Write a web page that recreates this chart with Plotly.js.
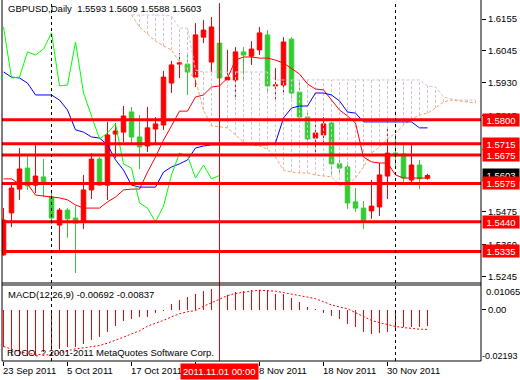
<!DOCTYPE html>
<html><head><meta charset="utf-8">
<script src="https://cdn.plot.ly/plotly-3.0.1.min.js"></script>
<style>html,body{margin:0;padding:0;background:#fff;}#chart{width:520px;height:380px;}</style>
</head><body><div id="chart"></div>
<script>
// ---------- data ----------
const dates = ["2011-09-23","2011-09-26","2011-09-27","2011-09-28","2011-09-29","2011-09-30","2011-10-03","2011-10-04","2011-10-05","2011-10-06","2011-10-07","2011-10-10","2011-10-11","2011-10-12","2011-10-13","2011-10-14","2011-10-17","2011-10-18","2011-10-19","2011-10-20","2011-10-21","2011-10-24","2011-10-25","2011-10-26","2011-10-27","2011-10-28","2011-10-31","2011-11-01","2011-11-02","2011-11-03","2011-11-04","2011-11-07","2011-11-08","2011-11-09","2011-11-10","2011-11-11","2011-11-14","2011-11-15","2011-11-16","2011-11-17","2011-11-18","2011-11-21","2011-11-22","2011-11-23","2011-11-24","2011-11-25","2011-11-28","2011-11-29","2011-11-30","2011-12-01","2011-12-02","2011-12-05","2011-12-06","2011-12-07"];
const open  = [1.5323,1.5471,1.5555,1.5629,1.5569,1.5598,1.5527,1.5428,1.5481,1.5453,1.5439,1.5552,1.5661,1.5569,1.5749,1.5756,1.5827,1.5739,1.5707,1.5767,1.5781,1.5929,1.5996,1.5996,1.5950,1.6091,1.6003,1.6070,1.5940,1.5940,1.6039,1.6024,1.6046,1.6099,1.5919,1.5922,1.6084,1.5897,1.5809,1.5735,1.5746,1.5788,1.5644,1.5633,1.5510,1.5488,1.5478,1.5492,1.5601,1.5682,1.5679,1.5587,1.5640,1.5593];
const high  = [1.5488,1.5569,1.5700,1.5672,1.5711,1.5661,1.5552,1.5488,1.5488,1.5495,1.5605,1.5682,1.5668,1.5792,1.5788,1.5848,1.5845,1.5816,1.5845,1.5809,1.5972,1.6007,1.6035,1.6035,1.6141,1.6151,1.6162,1.6084,1.6046,1.6056,1.6056,1.6077,1.6127,1.6116,1.5982,1.6091,1.6091,1.5929,1.5823,1.5809,1.5809,1.5792,1.5686,1.5651,1.5559,1.5513,1.5587,1.5647,1.5774,1.5749,1.5721,1.5711,1.5658,1.5609];
const low   = [1.5320,1.5421,1.5517,1.5552,1.5541,1.5527,1.5432,1.5330,1.5383,1.5259,1.5414,1.5520,1.5566,1.5517,1.5665,1.5721,1.5714,1.5626,1.5686,1.5711,1.5764,1.5894,1.5947,1.5887,1.5915,1.6070,1.5968,1.5883,1.5933,1.5869,1.5940,1.5993,1.6028,1.5897,1.5862,1.5887,1.5876,1.5792,1.5725,1.5682,1.5721,1.5601,1.5605,1.5485,1.5474,1.5414,1.5450,1.5460,1.5520,1.5629,1.5569,1.5577,1.5555,1.5588];
const close = [1.5446,1.5559,1.5626,1.5566,1.5601,1.5573,1.5453,1.5481,1.5450,1.5435,1.5552,1.5661,1.5569,1.5746,1.5760,1.5813,1.5739,1.5704,1.5771,1.5785,1.5950,1.5993,1.6000,1.5968,1.6099,1.6116,1.6127,1.5947,1.5950,1.6039,1.6028,1.6049,1.6106,1.5919,1.5922,1.6074,1.5894,1.5809,1.5732,1.5753,1.5785,1.5644,1.5629,1.5506,1.5488,1.5439,1.5495,1.5605,1.5682,1.5672,1.5594,1.5640,1.5591,1.5603];

const tenkan = [1.5591,1.5591,1.5573,1.5573,1.5534,1.5531,1.5527,1.5524,1.5517,1.5499,1.5488,1.5488,1.5488,1.5510,1.5527,1.5552,1.5555,1.5555,1.5615,1.5668,1.5728,1.5778,1.5830,1.5830,1.5880,1.5887,1.5915,1.5919,1.5947,1.6010,1.6021,1.6021,1.6017,1.6017,1.6010,1.6000,1.5982,1.5961,1.5926,1.5908,1.5905,1.5869,1.5834,1.5813,1.5788,1.5668,1.5651,1.5647,1.5647,1.5605,1.5594,1.5594,1.5594,1.5594];
const kijun  = [1.5968,1.5950,1.5947,1.5929,1.5887,1.5887,1.5887,1.5869,1.5834,1.5764,1.5756,1.5739,1.5735,1.5711,1.5658,1.5622,1.5569,1.5562,1.5562,1.5562,1.5615,1.5633,1.5644,1.5658,1.5700,1.5707,1.5711,1.5711,1.5711,1.5711,1.5711,1.5711,1.5711,1.5711,1.5718,1.5806,1.5841,1.5848,1.5848,1.5894,1.5894,1.5887,1.5866,1.5827,1.5823,1.5792,1.5792,1.5792,1.5792,1.5792,1.5792,1.5792,1.5771,1.5771];
const senkouA = [null,null,null,null,null,null,null,null,null,null,null,null,null,null,null,null,
  1.6169,1.6127,1.6102,1.6077,1.6060,1.6046,1.6003,1.5975,1.5940,1.5834,1.5778,1.5774,1.5771,1.5746,1.5721,1.5711,1.5707,1.5696,1.5668,1.5622,1.5615,1.5612,1.5612,1.5605,1.5601,1.5598,1.5569,1.5569,1.5594,1.5633,1.5682,1.5704,1.5732,1.5753,1.5781,1.5802,1.5816,1.5823,1.5841,1.5862,1.5869,1.5866,1.5862,1.5859];
const senkouB = [null,null,null,null,null,null,null,null,null,null,null,null,null,null,null,null,
  1.6169,1.6169,1.6169,1.6169,1.6169,1.6166,1.6123,1.6123,1.5975,1.5968,1.5968,1.5968,1.5968,1.5968,1.5968,1.5968,1.5968,1.5968,1.5940,1.5940,1.5940,1.5940,1.5940,1.5940,1.5940,1.5940,1.5940,1.5940,1.5940,1.5940,1.5940,1.5940,1.5940,1.5940,1.5940,1.5940,1.5940,1.5919,1.5915,1.5880,1.5873,1.5869,1.5869,1.5869];

const macd   = [-0.0160,-0.0196,-0.0198,-0.0198,-0.0196,-0.0181,-0.0174,-0.0167,-0.0160,-0.0160,-0.0146,-0.0131,-0.0117,-0.0096,-0.0071,-0.0049,-0.0039,-0.0031,-0.0029,-0.0014,-0.0005,0.0026,0.0043,0.0057,0.0069,0.0080,0.0090,0.0092,0.0065,0.0076,0.0082,0.0084,0.0085,0.0086,0.0068,0.0066,0.0052,0.0032,0.0014,0.0003,-0.0013,-0.0026,-0.0039,-0.0060,-0.0073,-0.0094,-0.0103,-0.0099,-0.0094,-0.0086,-0.0073,-0.0073,-0.0073,-0.00692];
const signal = [-0.0157,-0.0170,-0.0180,-0.0187,-0.0191,-0.0193,-0.0193,-0.0185,-0.0178,-0.0167,-0.0163,-0.0158,-0.0153,-0.0143,-0.0131,-0.0117,-0.0103,-0.0090,-0.0070,-0.0058,-0.0045,-0.0030,-0.0017,-0.0008,-0.0003,0.0015,0.0030,0.0047,0.0061,0.0070,0.0076,0.0080,0.0084,0.0083,0.0080,0.0074,0.0068,0.0062,0.0055,0.0048,0.0035,0.0021,0.0012,0.0005,-0.0012,-0.0029,-0.0045,-0.0055,-0.0064,-0.0071,-0.0076,-0.0080,-0.0083,-0.00837];

const levels = [1.5800,1.5715,1.5675,1.5575,1.5440,1.5335];
const priceTicks = [1.6155,1.6045,1.5930,1.5815,1.5475,1.5360,1.5245];
const macdMax = 0.01065, macdMin = -0.02193;
const dateTickIdx = [0,8,16,24,32,40,48];
const dateLabelIdx = [0,8,16,32,40,48];
const dateLabels = ["23 Sep 2011","5 Oct 2011","17 Oct 2011","8 Nov 2011","18 Nov 2011","30 Nov 2011"];
const separators = [6,49];
const cursorIdx = 27;
const cursorLabel = "2011.11.01 00:00";
const symbolTitle = "GBPUSD,Daily";
const macdTitle = "MACD(12,26,9)";
const copyright = "ROCO, ? 2001-2011 MetaQuotes Software Corp.";

// ---------- build ----------
const n = dates.length;
const idx = dates.map((d,i)=>i);
const cloudIdx = senkouA.map((v,i)=>i);
const hx=[], hy=[];
for(let i=0;i<senkouA.length;i++){
  if(senkouA[i]!=null && senkouB[i]!=null){ hx.push(i,i,null); hy.push(senkouA[i],senkouB[i],null); }
}
const chikouX = idx.slice(0, n-26);
const chikouY = close.slice(26);

const FONT = "Liberation Sans, Arial, sans-serif";
const W=520,H=380,L=2,R=39,T=3,B=19;
const plotH = H-T-B;
const mainDomain = [(H-B-283)/plotH, 1];
const macdDomain = [0, (H-B-285)/plotH];
const pxPerBar = 8;
const xLeft = -1.5/pxPerBar, xRight = (W-R-L)/pxPerBar + xLeft;
const yTopPx = 19, yTickPrice = 1.6155, pxPerUnit = 2835;
const yMax = yTickPrice + (yTopPx-T)/pxPerUnit;
const yMin = yMax - 280/pxPerUnit;

const traces = [
  {type:'scatter', mode:'lines', x:hx, y:hy, line:{color:'#d8bfd8', width:1, dash:'3px,2px'}, connectgaps:false, hoverinfo:'skip'},
  {type:'scatter', mode:'lines', x:cloudIdx, y:senkouB, line:{color:'#d8bfd8', width:1, dash:'3px,2px'}, hoverinfo:'skip'},
  {type:'scatter', mode:'lines', x:cloudIdx, y:senkouA, line:{color:'#f4a460', width:1, dash:'3px,2px'}, hoverinfo:'skip'},
  {type:'candlestick', x:idx, open:open, high:high, low:low, close:close,
   increasing:{line:{color:'#ff0000', width:1}, fillcolor:'#ff0000'},
   decreasing:{line:{color:'#32cd32', width:1}, fillcolor:'#32cd32'},
   whiskerwidth:0, hoverinfo:'skip'},
  {type:'scatter', mode:'lines', x:idx, y:tenkan, line:{color:'#ff0000', width:1}, hoverinfo:'skip'},
  {type:'scatter', mode:'lines', x:idx, y:kijun, line:{color:'#0000ff', width:1}, hoverinfo:'skip'},
  {type:'scatter', mode:'lines', x:chikouX, y:chikouY, line:{color:'#00ff00', width:1}, hoverinfo:'skip'},
  {type:'bar', x:idx, y:macd, yaxis:'y2', marker:{color:'#ff0000', line:{width:0}}, width:1/pxPerBar, hoverinfo:'skip'},
  {type:'scatter', mode:'lines', x:idx, y:signal, yaxis:'y2', line:{color:'#ff0000', width:1, dash:'2px,2px'}, hoverinfo:'skip'}
];

const shapes = [];
levels.forEach(v=>shapes.push({type:'line', xref:'paper', x0:0, x1:1, yref:'y', y0:v, y1:v, line:{color:'#ff0000', width:3}}));
separators.forEach(s=>shapes.push({type:'line', xref:'x', x0:s, x1:s, yref:'paper', y0:0, y1:1, line:{color:'#000', width:1, dash:'3px,3px'}}));
shapes.push({type:'line', xref:'x', x0:cursorIdx, x1:cursorIdx, yref:'paper', y0:0, y1:1, line:{color:'#ff0000', width:1}});
// frame
shapes.push({type:'line', xref:'paper', x0:0, x1:0, yref:'paper', y0:0, y1:1.01, line:{color:'#000', width:1}});
shapes.push({type:'line', xref:'paper', x0:1, x1:1, yref:'paper', y0:0, y1:1.01, line:{color:'#000', width:1}});
shapes.push({type:'line', xref:'paper', x0:0, x1:1, yref:'paper', y0:mainDomain[0], y1:mainDomain[0], line:{color:'#000', width:1}});
shapes.push({type:'line', xref:'paper', x0:0, x1:1, yref:'paper', y0:macdDomain[1], y1:macdDomain[1], line:{color:'#000', width:1}});
shapes.push({type:'line', xref:'paper', x0:0, x1:1, yref:'paper', y0:0, y1:0, line:{color:'#000', width:1}});

const fmt4 = v=>v.toFixed(4);
const last = n-1;
const ann = [];
ann.push({xref:'paper', x:0, xanchor:'left', xshift:4, yref:'paper', y:1, yanchor:'top', yshift:2, showarrow:false,
  text: symbolTitle+'  '+[open[last],high[last],low[last],close[last]].map(fmt4).join(' '), font:{family:FONT, size:9.5, color:'#000'}});
ann.push({xref:'paper', x:0, xanchor:'left', xshift:4, yref:'paper', y:macdDomain[1], yanchor:'top', yshift:-2, showarrow:false,
  text: macdTitle+' '+macd[last].toFixed(5)+' '+signal[last].toFixed(5), font:{family:FONT, size:9.5, color:'#000'}});
ann.push({xref:'paper', x:0, xanchor:'left', xshift:3, yref:'paper', y:0, yanchor:'bottom', yshift:1, showarrow:false,
  text: copyright, font:{family:FONT, size:9.5, color:'#000'}});
ann.push({xref:'paper', x:1, xanchor:'left', xshift:3, yref:'y2', y:macdMax, yanchor:'top', yshift:1, showarrow:false,
  text: macdMax.toFixed(5), font:{family:FONT, size:9.5, color:'#000'}});
ann.push({xref:'paper', x:1, xanchor:'left', xshift:-1, yref:'y2', y:macdMin, yanchor:'bottom', yshift:-2, showarrow:false,
  text: macdMin.toFixed(5), font:{family:FONT, size:9, color:'#000'}});
dateLabelIdx.forEach((k,j)=>ann.push({xref:'x', x:k, xanchor:'left', xshift:-3, yref:'paper', y:0, yanchor:'top', yshift:-2, showarrow:false,
  text: dateLabels[j], font:{family:FONT, size:9.5, color:'#000'}}));
ann.push({xref:'x', x:cursorIdx, xanchor:'center', yref:'paper', y:0, yanchor:'top', yshift:-2, showarrow:false,
  text: cursorLabel, bgcolor:'#ff0000', borderpad:2, font:{family:FONT, size:9.5, color:'#fff'}});
// current price box first, level boxes on top (as in the reference, they partly cover it)
ann.push({xref:'paper', x:1, xanchor:'left', xshift:1, yref:'y', y:close[last], showarrow:false, width:34, height:10, borderpad:1,
  text: fmt4(close[last]), bgcolor:'#000', font:{family:FONT, size:9.5, color:'#fff'}});
levels.forEach(v=>ann.push({xref:'paper', x:1, xanchor:'left', xshift:1, yref:'y', y:v, showarrow:false, width:34, height:10, borderpad:1,
  text: fmt4(v), bgcolor:'#ff0000', font:{family:FONT, size:9.5, color:'#fff'}}));

const layout = {
  width:W, height:H, margin:{l:L, r:R, t:T, b:B, pad:0},
  paper_bgcolor:'#fff', plot_bgcolor:'#fff', showlegend:false, hovermode:false,
  boxgap:0.25, boxgroupgap:0.25,
  bargap:0,
  xaxis:{range:[xLeft,xRight], anchor:'y2', showgrid:false, zeroline:false, showline:false,
    tickmode:'array', tickvals:dateTickIdx, showticklabels:false, ticks:'outside', ticklen:4, tickcolor:'#000',
    rangeslider:{visible:false}, fixedrange:true},
  yaxis:{domain:mainDomain, range:[yMin,yMax], side:'right', anchor:'x', showgrid:false, zeroline:false, showline:false,
    tickmode:'array', tickvals:priceTicks, ticktext:priceTicks.map(fmt4), ticks:'outside', ticklen:4, tickcolor:'#000',
    tickfont:{family:FONT, size:9.5, color:'#000'}, fixedrange:true},
  yaxis2:{domain:macdDomain, range:[macdMin,macdMax], side:'right', anchor:'x', showgrid:false, zeroline:false, showline:false,
    tickmode:'array', tickvals:[0], ticktext:['0.00'], ticks:'outside', ticklen:4, tickcolor:'#000',
    tickfont:{family:FONT, size:9.5, color:'#000'}, fixedrange:true},
  shapes:shapes, annotations:ann
};
Plotly.newPlot('chart', traces, layout, {staticPlot:true, displayModeBar:false});
</script></body></html>
